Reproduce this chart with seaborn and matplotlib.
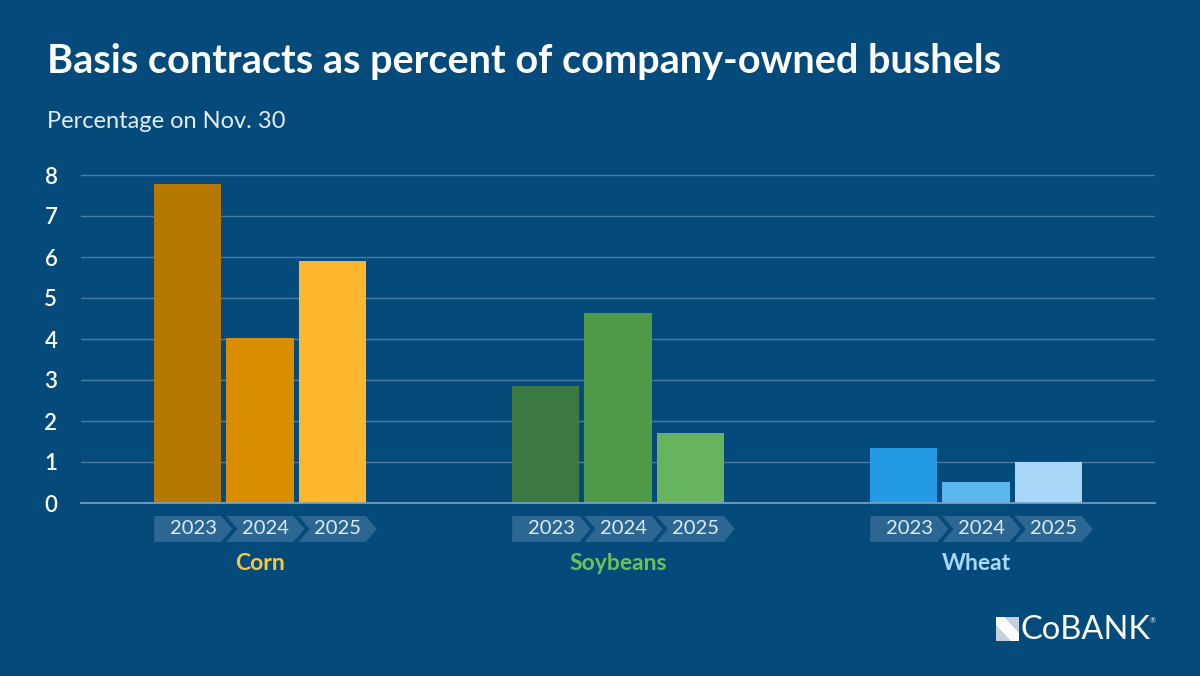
import numpy as np
import pandas as pd
import seaborn as sns
import matplotlib.pyplot as plt
from matplotlib.patches import Polygon
import matplotlib.transforms as mtransforms

# 資料
crops = ['Corn', 'Soybeans', 'Wheat']
years = ['2023', '2024', '2025']
corn = [7.78, 4.02, 5.90]
soybeans = [2.85, 4.63, 1.71]
wheat = [1.34, 0.51, 1.00]

bar_colors = {
    'Corn': ['#b57800', '#d98e00', '#fdb72f'],
    'Soybeans': ['#3c7942', '#4f9a49', '#68b35f'],
    'Wheat': ['#249ae4', '#5cb7ef', '#a7d6f6'],
}
label_colors = {'Corn': '#f3c844', 'Soybeans': '#6cc05c', 'Wheat': '#a9d8f7'}

df = pd.DataFrame({
    'crop': np.repeat(crops, 3),
    'year': years * 3,
    'value': corn + soybeans + wheat,
})

sns.set_theme(style='white')
plt.rcParams['font.family'] = ['Lato', 'DejaVu Sans']

bg = '#044a7b'
fig = plt.figure(figsize=(12, 6.76), dpi=100, facecolor=bg)
ymax = 8.1
ax = fig.add_axes([81 / 1200, 1 - 503 / 676, (1155 - 81) / 1200, ymax * 41 / 676])
ax.set_facecolor(bg)

sns.barplot(data=df, x='crop', y='value', hue='year', ax=ax, width=0.605,
            gap=0.07, saturation=1, legend=False, errorbar=None)

# 每根柱子的顏色
for i, cont in enumerate(ax.containers):
    for j, bar in enumerate(cont):
        bar.set_facecolor(bar_colors[crops[j]][i])
        bar.set_edgecolor('none')

ax.set_xlim(-0.5, 2.5)
ax.set_ylim(0, ymax)
ax.set_yticks(range(0, 9))
ax.set_yticklabels([str(v) for v in range(0, 9)], color='white', fontsize=16,
                   fontweight='semibold')
ax.tick_params(axis='y', length=0, pad=17)
ax.set_xticks([-0.5, 0.5, 1.5, 2.5])
ax.set_xticklabels([''] * 4)
ax.tick_params(axis='x', direction='out', length=5, width=1, color='#7ea4c4')
ax.set_xlabel('')
ax.set_ylabel('')
ax.yaxis.grid(True, color='#4a7ba5', lw=1)
ax.set_axisbelow(True)
for s in ['top', 'left', 'right']:
    ax.spines[s].set_visible(False)
ax.spines['bottom'].set_color('#7ea4c4')
ax.spines['bottom'].set_linewidth(1.2)

# 年份箭頭標籤
trans = mtransforms.blended_transform_factory(ax.transData, ax.transAxes)
h_ax = ymax * 41
y_top = -13 / h_ax
y_bot = -39 / h_ax
y_mid = (y_top + y_bot) / 2
d = 11 / (1074 / 3)
for i, cont in enumerate(ax.containers):
    for j, bar in enumerate(cont):
        x0 = bar.get_x()
        w = bar.get_width()
        pts = [(x0, y_top), (x0 + w, y_top), (x0 + w + d, y_mid),
               (x0 + w, y_bot), (x0, y_bot)]
        if i > 0:
            pts.append((x0 + d, y_mid))
        ax.add_patch(Polygon(pts, closed=True, transform=trans, clip_on=False,
                             facecolor='#2c6794', edgecolor='none'))
        ax.text(x0 + w / 2 + d / 2, y_mid, years[i], transform=trans,
                ha='center', va='center', fontsize=14.5, color='#dcecf8')

# 作物名稱
for j, c in enumerate(crops):
    ax.text(j, -60 / h_ax, c, transform=trans, ha='center', va='center',
            fontsize=16.5, fontweight='bold', color=label_colors[c])

# 標題
fig.text(47 / 1200, 1 - 62 / 676, 'Basis contracts as percent of company-owned bushels',
         fontsize=28.5, fontweight='bold', color='white', va='center', ha='left')
fig.text(47 / 1200, 1 - 122 / 676, 'Percentage on Nov. 30',
         fontsize=17, color='#e4edf5', va='center', ha='left')

# CoBank 標誌
def fx(px):
    return px / 1200

def fy(py):
    return 1 - py / 676

fig.patches.append(Polygon([(fx(996), fy(617)), (fx(1019), fy(617)), (fx(1019), fy(641)),
                            (fx(996), fy(641))], closed=True, transform=fig.transFigure,
                           facecolor='#c4d0db', edgecolor='none'))
fig.patches.append(Polygon([(fx(996), fy(617)), (fx(1004), fy(617)), (fx(1019), fy(633)),
                            (fx(1019), fy(641)), (fx(1011), fy(641)), (fx(996), fy(625))],
                           closed=True, transform=fig.transFigure,
                           facecolor='white', edgecolor='none'))
fig.text(fx(1021), fy(630), 'CoBANK', fontsize=23.5, color='white', va='center', ha='left')
fig.text(fx(1150), fy(621), '®', fontsize=5, color='white', va='center', ha='left')

fig.savefig('out.png', dpi=100, facecolor=bg)
